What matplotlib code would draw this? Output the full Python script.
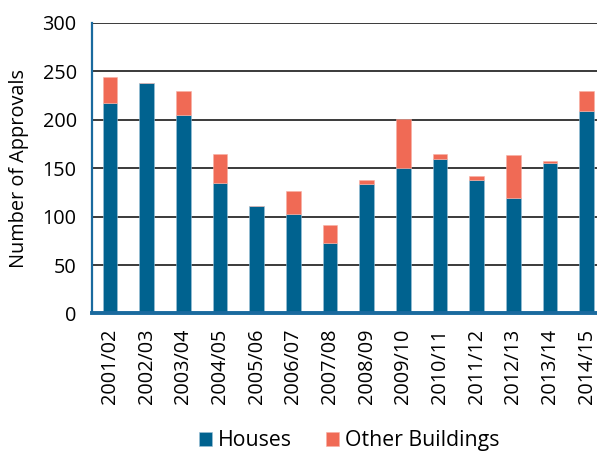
import matplotlib.pyplot as plt
import numpy as np

years = ['2001/02', '2002/03', '2003/04', '2004/05', '2005/06', '2006/07', '2007/08',
         '2008/09', '2009/10', '2010/11', '2011/12', '2012/13', '2013/14', '2014/15']
houses = [217, 238, 205, 135, 111, 103, 73, 134, 150, 159, 138, 119, 155, 209]
other = [27, 0, 25, 29, 0, 23, 18, 4, 51, 6, 4, 44, 2, 20]

plt.rcParams['font.family'] = ['Open Sans', 'DejaVu Sans']

blue = '#00628f'
red = '#f06a55'

fig = plt.figure(figsize=(5.97, 4.53), dpi=100)
ax = fig.add_axes([0.154, 0.308, 0.846, 0.642])

x = np.arange(len(years))
ax.bar(x, houses, width=0.4, color=blue, edgecolor='#9fc3d8', linewidth=0.4, label='Houses', zorder=3)
ax.bar(x, other, width=0.4, bottom=houses, color=red, edgecolor='#f7b0a4', linewidth=0.4,
       label='Other Buildings', zorder=3)

ax.set_xlim(-0.49, 13.28)
ax.set_ylim(0, 300)
ax.set_yticks([0, 50, 100, 150, 200, 250, 300])
ax.set_xticks(x)
ax.set_xticklabels(years, rotation=90)
ax.tick_params(axis='both', length=0, labelsize=14.3, colors='black')
ax.tick_params(axis='y', pad=11)
ax.tick_params(axis='x', pad=11)

ax.grid(axis='y', color='#3a3a3a', linewidth=1.4, zorder=0)
ax.set_axisbelow(True)

ax.spines['top'].set_visible(False)
ax.spines['right'].set_visible(False)
ax.spines['left'].set_color('#1a6a9e')
ax.spines['left'].set_linewidth(1.6)
ax.spines['bottom'].set_color('#1a6a9e')
ax.spines['bottom'].set_linewidth(2.8)
ax.spines['bottom'].set_zorder(4)

ax.set_ylabel('Number of Approvals', fontsize=14.3, color='black', labelpad=10)

fig.legend(loc='center', bbox_to_anchor=(0.585, 0.027), ncol=2, frameon=False, fontsize=15.3,
           handlelength=0.6, handleheight=0.6, handletextpad=0.3, columnspacing=1.6)

fig.savefig('out.png', dpi=100)
